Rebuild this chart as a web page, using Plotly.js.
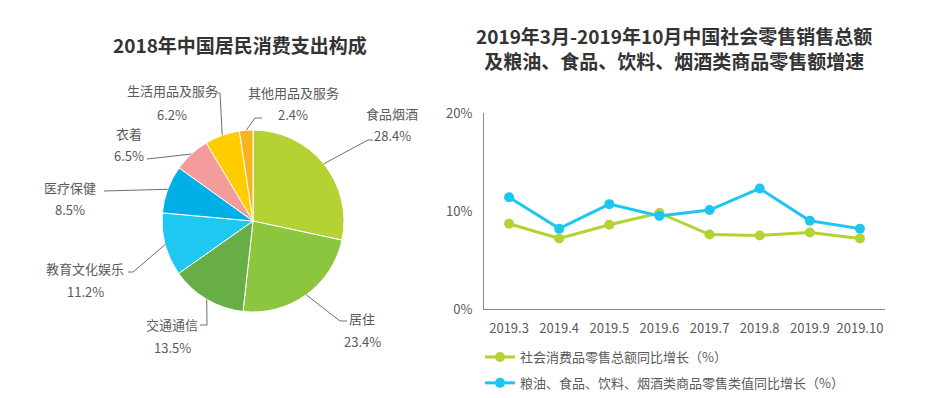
<!DOCTYPE html>
<html><head><meta charset="utf-8">
<script src="https://cdn.plot.ly/plotly-3.0.1.min.js"></script>
<style>html,body{margin:0;padding:0;background:#fff}</style>
</head><body><div id="chart" style="width:935px;height:398px"></div>
<script>
// ---------- data ----------
const pieTitle = '2018年中国居民消费支出构成';
const pieLabels = ['食品烟酒','居住','交通通信','教育文化娱乐','医疗保健','衣着','生活用品及服务','其他用品及服务'];
const pieValues = [28.4, 23.4, 13.5, 11.2, 8.5, 6.5, 6.2, 2.4];

const lineTitle1 = '2019年3月-2019年10月中国社会零售销售总额';
const lineTitle2 = '及粮油、食品、饮料、烟酒类商品零售额增速';
const months = ['2019.3','2019.4','2019.5','2019.6','2019.7','2019.8','2019.9','2019.10'];
const retailTotal = [8.7, 7.2, 8.6, 9.8, 7.6, 7.5, 7.8, 7.2];
const grainFoodDrink = [11.4, 8.2, 10.7, 9.5, 10.1, 12.3, 9.0, 8.2];
const seriesNames = ['社会消费品零售总额同比增长（%）', '粮油、食品、饮料、烟酒类商品零售类值同比增长（%）'];
const yTicks = [0, 10, 20];
const yTickText = ['0%', '10%', '20%'];

// ---------- style / layout ----------
const W = 935, H = 398;
const FONT = 'Noto Sans CJK SC, Noto Sans, sans-serif';
const TXT = '#595959';
const pieColors = ['#b4d233','#8cc63f','#66ae45','#1ec8f1','#00afe6','#f39c9b','#ffcc00','#f8b41e'];
const lineColors = ['#b3d234','#1dc6ef'];
const pieCenter = [253, 221], pieR = 91;
// per-label leader elbow/end points and text centre (pixels)
const labelLayout = [
  {pts:[[368,140],[373,140]], txt:[392,113]},
  {pts:[[340,321],[347,321]], txt:[362,318]},
  {pts:[[207,325],[200,325]], txt:[172,324]},
  {pts:[[133,272],[128,272]], txt:[85,268]},
  {pts:[[104,191]], txt:[70,187]},
  {pts:[[147,159]], txt:[129,133]},
  {pts:[[220,93],[216,93]], txt:[172,91]},
  {pts:[[255,118],[262,118]], txt:[293,92]}
];
const px = x => x / W, py = y => 1 - y / H;

const annotations = [], shapes = [];
const total = pieValues.reduce((a,b)=>a+b,0);
let cum = 0;
pieValues.forEach((v,i)=>{
  const mid = (cum + v/2) / total; cum += v;
  const th = 2*Math.PI*mid;
  const ax = pieCenter[0] + pieR*Math.sin(th), ay = pieCenter[1] - pieR*Math.cos(th);
  const L = labelLayout[i];
  let d = `M${px(ax)},${py(ay)}`;
  L.pts.forEach(p=>{ d += ` L${px(p[0])},${py(p[1])}`; });
  shapes.push({type:'path', xref:'paper', yref:'paper', path:d, line:{color:'#6f6f6f', width:1}});
  annotations.push({xref:'paper', yref:'paper', x:px(L.txt[0]), y:py(L.txt[1]), text:pieLabels[i],
    showarrow:false, xanchor:'center', yanchor:'middle', font:{family:FONT, size:13, color:TXT}});
  annotations.push({xref:'paper', yref:'paper', x:px(L.txt[0]), y:py(L.txt[1]+23), text:v.toFixed(1)+'%',
    showarrow:false, xanchor:'center', yanchor:'middle', font:{family:FONT, size:13, color:TXT}});
});

annotations.push({xref:'paper', yref:'paper', x:px(240), y:py(44), text:'<b>'+pieTitle+'</b>', showarrow:false,
  xanchor:'center', yanchor:'middle', font:{family:FONT, size:19, color:'#333333'}});
annotations.push({xref:'paper', yref:'paper', x:px(674), y:py(48), text:'<b>'+lineTitle1+'</b><br><b>'+lineTitle2+'</b>',
  showarrow:false, xanchor:'center', yanchor:'middle', align:'center', font:{family:FONT, size:19, color:'#333333'}});

const traces = [
  {type:'pie', labels:pieLabels, values:pieValues, sort:false, direction:'clockwise', rotation:0,
   textinfo:'none', hoverinfo:'label+percent', showlegend:false,
   marker:{colors:pieColors, line:{color:'#ffffff', width:1}},
   domain:{x:[px(162), px(344)], y:[py(312), py(130)]}},
  {type:'scatter', mode:'lines+markers', x:months, y:retailTotal, name:seriesNames[0], legendgroup:'a',
   line:{color:lineColors[0], width:3}, marker:{color:lineColors[0], size:10}},
  {type:'scatter', mode:'lines+markers', x:months, y:grainFoodDrink, name:seriesNames[1], legendgroup:'b',
   line:{color:lineColors[1], width:3}, marker:{color:lineColors[1], size:10}}
];

const layout = {
  width:W, height:H, margin:{l:0,r:0,t:0,b:0}, paper_bgcolor:'#fff', plot_bgcolor:'#fff',
  font:{family:FONT, size:13, color:TXT},
  xaxis:{domain:[px(484), px(885)], type:'category', range:[-0.5, 7.5], showline:true, linecolor:'#8a8a8a',
    linewidth:1, showgrid:false, zeroline:false, ticks:'outside', ticklen:7, tickcolor:'rgba(0,0,0,0)',
    tickfont:{family:FONT, size:13, color:TXT}, fixedrange:true},
  yaxis:{domain:[py(309), py(113)], range:[0,20], tickmode:'array', tickvals:yTicks, ticktext:yTickText,
    showline:true, linecolor:'#8a8a8a', linewidth:1, showgrid:false, zeroline:false, ticks:'outside', ticklen:8,
    tickcolor:'rgba(0,0,0,0)', tickfont:{family:FONT, size:13, color:TXT}, fixedrange:true},
  showlegend:true,
  legend:{x:px(480), y:0, xanchor:'left', yanchor:'bottom', orientation:'v', traceorder:'grouped',
    tracegroupgap:6, font:{family:FONT, size:13, color:TXT}, bgcolor:'rgba(0,0,0,0)'},
  annotations:annotations, shapes:shapes
};
Plotly.newPlot('chart', traces, layout, {displayModeBar:false, staticPlot:true});
</script></body></html>
